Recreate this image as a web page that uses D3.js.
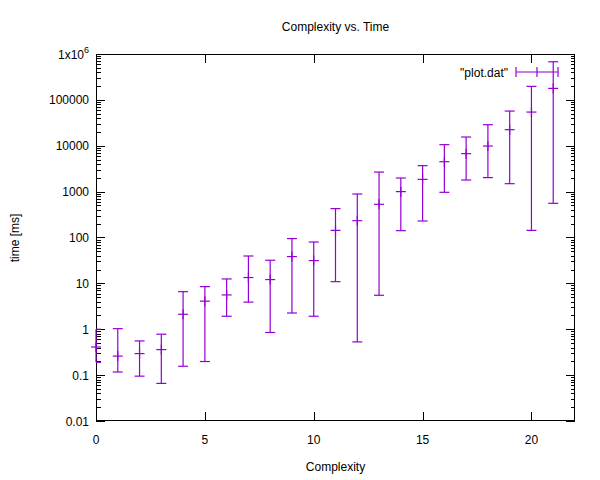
<!DOCTYPE html>
<html><head><meta charset="utf-8">
<script src="https://cdn.jsdelivr.net/npm/d3@7"></script>
<style>body{margin:0;background:#fff}svg{display:block;font-family:"Liberation Sans",Arial,sans-serif}</style>
</head><body><svg id="c" width="600" height="480"></svg>
<script>
const xs    = [0,1,2,3,4,5,6,7,8,9,10,11,12,13,14,15,16,17,18,19,20,21];
const yMid  = [0.41,0.26,0.295,0.36,2.12,4.1,5.6,13.4,12.1,38.4,31.4,143,233,529,1000,1850,4490,6730,9860,22400,54200,178000];
const yLow  = [0.19,0.117,0.095,0.066,0.156,0.198,1.92,3.9,0.85,2.26,1.92,10.9,0.53,5.5,141,229,966,1790,2020,1490,143,556];
const yHigh = [1.0,1.03,0.556,0.78,6.6,8.5,12.5,39.5,31.9,94.7,79.8,426,887,2670,1980,3680,10570,15500,28800,57000,197000,677000];
const xTicks = [0,5,10,15,20];
const yTicks = [0.01,0.1,1,10,100,1000,10000,100000,1000000];
const yTickLabels = ["0.01","0.1","1","10","100","1000","10000","100000","1x10^6"];

const svg = d3.select("#c");
const L=96,R=575,T=54,B=421;
const x = d3.scaleLinear().domain([0,22]).range([L,R]);
const y = d3.scaleLog().domain([0.01,1e6]).range([B,T]);
const col = "#9400d3";
const fs = 12;

// minor ticks
const minor=[];
for(let e=-2;e<6;e++) for(let m=2;m<10;m++) minor.push(m*Math.pow(10,e));
const g = svg.append("g").attr("stroke","#000").attr("stroke-width",1).attr("shape-rendering","crispEdges");
minor.forEach(v=>{
  const yy=Math.round(y(v))+0.5;
  g.append("line").attr("x1",L).attr("x2",L+4.5).attr("y1",yy).attr("y2",yy);
  g.append("line").attr("x1",R).attr("x2",R-4.5).attr("y1",yy).attr("y2",yy);
});
yTicks.forEach(v=>{
  const yy=Math.round(y(v))+0.5;
  g.append("line").attr("x1",L).attr("x2",L+9).attr("y1",yy).attr("y2",yy);
  g.append("line").attr("x1",R).attr("x2",R-9).attr("y1",yy).attr("y2",yy);
});
xTicks.forEach(v=>{
  const xx=Math.round(x(v))+0.5;
  g.append("line").attr("x1",xx).attr("x2",xx).attr("y1",B).attr("y2",B-9);
  g.append("line").attr("x1",xx).attr("x2",xx).attr("y1",T).attr("y2",T+9);
});
g.append("rect").attr("x",L+0.5).attr("y",T+0.5).attr("width",R-L-1).attr("height",B-T-1).attr("fill","none");

// tick labels
yTicks.forEach((v,i)=>{
  const t=svg.append("text").attr("x",89).attr("y",y(v)+4.5).attr("text-anchor","end").attr("font-size",fs).attr("fill","#000");
  const lab=yTickLabels[i];
  if(lab.includes("^")){
    const [a,b]=lab.split("^");
    t.append("tspan").text(a);
    t.append("tspan").attr("dy",-6).attr("font-size",9).text(b);
  } else t.text(lab);
});
xTicks.forEach(v=>{
  svg.append("text").attr("x",x(v)).attr("y",444).attr("text-anchor","middle").attr("font-size",fs).text(v);
});

// titles
svg.append("text").attr("x",(L+R)/2).attr("y",31).attr("text-anchor","middle").attr("font-size",fs).text("Complexity vs. Time");
svg.append("text").attr("x",(L+R)/2).attr("y",471).attr("text-anchor","middle").attr("font-size",fs).text("Complexity");
svg.append("text").attr("transform",`translate(19,238) rotate(-90)`).attr("text-anchor","middle").attr("font-size",fs).text("time [ms]");

// data
const d = xs.map((v,i)=>({x:v,m:yMid[i],lo:yLow[i],hi:yHigh[i]}));
const pg = svg.append("g").attr("stroke",col).attr("stroke-width",1.2).attr("fill","none");
const cw=5;
d.forEach(p=>{
  const xx=x(p.x);
  pg.append("line").attr("x1",xx).attr("x2",xx).attr("y1",y(p.lo)).attr("y2",y(p.hi));
  pg.append("line").attr("x1",Math.max(L,xx-cw)).attr("x2",xx+cw).attr("y1",y(p.lo)).attr("y2",y(p.lo));
  pg.append("line").attr("x1",Math.max(L,xx-cw)).attr("x2",xx+cw).attr("y1",y(p.hi)).attr("y2",y(p.hi));
  pg.append("line").attr("x1",xx-cw).attr("x2",xx+cw).attr("y1",y(p.m)).attr("y2",y(p.m));
  pg.append("line").attr("x1",xx).attr("x2",xx).attr("y1",y(p.m)-cw).attr("y2",y(p.m)+cw);
});

// legend
const ly=72, lx1=516, lx2=558, lc=(lx1+lx2)/2;
svg.append("text").attr("x",508).attr("y",ly+4.5).attr("text-anchor","end").attr("font-size",fs).text('"plot.dat"');
pg.append("line").attr("x1",lx1).attr("x2",lx2).attr("y1",ly).attr("y2",ly);
pg.append("line").attr("x1",lx1).attr("x2",lx1).attr("y1",ly-cw).attr("y2",ly+cw);
pg.append("line").attr("x1",lx2).attr("x2",lx2).attr("y1",ly-cw).attr("y2",ly+cw);
pg.append("line").attr("x1",lc).attr("x2",lc).attr("y1",ly-cw).attr("y2",ly+cw);
</script></body></html>
